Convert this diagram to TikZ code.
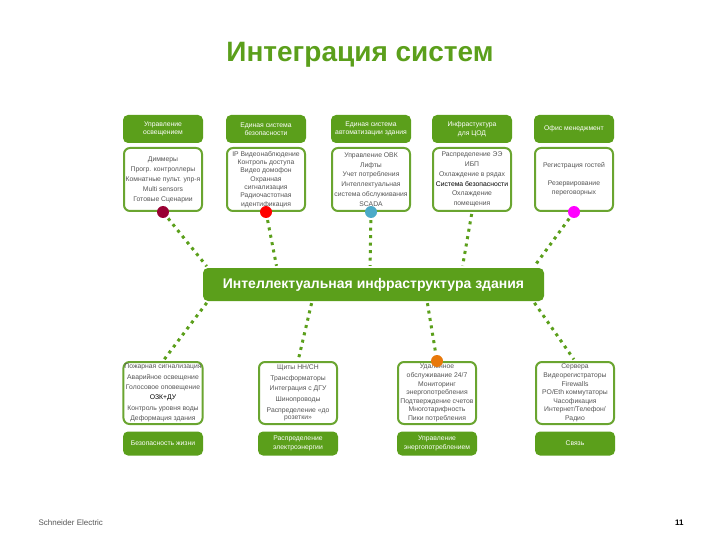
\documentclass[tikz,border=0pt]{standalone}
\usepackage{fontspec}
\setmainfont{Liberation Sans}
\usetikzlibrary{positioning,calc}
\definecolor{leaf}{HTML}{5B9F1B}
\definecolor{leafline}{HTML}{6AA530}
\definecolor{inktext}{HTML}{555555}
\definecolor{dotwine}{HTML}{990033}
\definecolor{dotred}{HTML}{FF0000}
\definecolor{dotsky}{HTML}{4BAAC8}
\definecolor{dotpink}{HTML}{FF00FF}
\definecolor{dotamber}{HTML}{E8780A}

\tikzset{
  head/.style={fill=leaf, rounded corners=5pt, minimum width=80pt, minimum height=28pt,
    text=white, font=\fontsize{6.8}{8.6}\selectfont, align=center, inner sep=1pt},
  info/.style={draw=leafline, line width=2pt, fill=white, rounded corners=6pt,
    minimum width=78pt, minimum height=63pt, text=inktext,
    font=\fontsize{6.8}{10}\selectfont, align=center, inner sep=1pt},
  blob/.style={circle, minimum size=12pt, inner sep=0pt},
  link/.style={leaf, line width=3pt, dash pattern=on 3pt off 4.5pt, shorten <=2pt, shorten >=2pt},
}

\begin{document}
\begin{tikzpicture}[x=1pt,y=-1pt]
  \useasboundingbox (0,0) rectangle (720,540);

  % title
  \node[leaf, font=\fontsize{28}{32}\selectfont\bfseries, anchor=base] (title) at (360,62) {Интеграция систем};

  % upper row
  \node[head] (h1) at (163,129) {Управление\\освещением};
  \node[head] (h2) at (266,129) {Единая система\\безопасности};
  \node[head] (h3) at (371,129) {Единая система\\автоматизации здания};
  \node[head] (h4) at (472,129) {Инфрастуктура\\для ЦОД};
  \node[head] (h5) at (574,129) {Офис менеджмент};

  \node[info] (t1) at (163,179.5) {Диммеры\\Прогр. контроллеры\\Комнатные пульт. упр-я\\Multi sensors\\Готовые Сценарии};
  \node[info, font=\fontsize{6.8}{8.3}\selectfont] (t2) at (266,179.5) {IP Видеонаблюдение\\Контроль доступа\\Видео домофон\\Охранная\\сигнализация\\Радиочастотная\\идентификация};
  \node[info, font=\fontsize{6.8}{9.8}\selectfont] (t3) at (371,179.5) {Управление ОВК\\Лифты\\Учет потребления\\Интеллектуальная\\система обслуживания\\SCADA};
  \node[info, font=\fontsize{6.8}{9.8}\selectfont] (t4) at (472,179.5) {Распределение ЭЭ\\ИБП\\Охлаждение в рядах\\\textcolor{black}{Система безопасности}\\Охлаждение\\помещения};
  \node[info, font=\fontsize{6.8}{9}\selectfont] (t5) at (574,179.5) {Регистрация гостей\\[9pt]Резервирование\\переговорных};

  % central bar
  \node[fill=leaf, rounded corners=5pt, minimum width=341pt, minimum height=33pt, text=white,
    font=\fontsize{14}{16}\selectfont\bfseries] (bar) at (373.5,284.5) {Интеллектуальная инфраструктура здания};

  % lower row
  \node[info, minimum height=62pt, font=\fontsize{6.8}{10.4}\selectfont] (b1) at (163,393) {Пожарная сигнализация\\Аварийное освещение\\Голосовое оповещение\\\textcolor{black}{ОЗК+ДУ}\\Контроль уровня воды\\Деформация здания};
  \node[info, minimum height=62pt, font=\fontsize{6.8}{10.6}\selectfont] (b2) at (298,393) {Щиты НН/СН\\Трансформаторы\\Интеграция с ДГУ\\Шинопроводы\\Распределение «до\\[-3pt]розетки»};
  \node[info, minimum height=62pt, font=\fontsize{6.8}{8.6}\selectfont] (b3) at (437,393) {Удаленное\\обслуживание 24/7\\Мониторинг\\энергопотребления\\Подтверждение счетов\\Многотарифность\\Пики потребления};
  \node[info, minimum height=62pt, font=\fontsize{6.8}{8.6}\selectfont] (b4) at (575,393) {Сервера\\Видеорегистраторы\\Firewalls\\PO/Eth коммутаторы\\Часофикация\\Интернет/Телефон/\\Радио};

  \node[head, minimum height=24pt] (f1) at (163,443.5) {Безопасность жизни};
  \node[head, minimum height=24pt] (f2) at (298,443.5) {Распределение\\электроэнергии};
  \node[head, minimum height=24pt] (f3) at (437,443.5) {Управление\\энергопотреблением};
  \node[head, minimum height=24pt] (f4) at (575,443.5) {Связь};

  % coloured markers
  \node[blob, fill=dotwine] (d1) at (t1.south) {};
  \node[blob, fill=dotred] (d2) at (t2.south) {};
  \node[blob, fill=dotsky] (d3) at (t3.south) {};
  \node[blob, fill=dotpink] (d5) at (t5.south) {};
  \node[blob, fill=dotamber] (d6) at (b3.north) {};

  % attachment points on the bar
  \foreach \k/\f in {1/0.015,2/0.217,3/0.49,4/0.76,5/0.968}
    \coordinate (up\k) at ($(bar.north west)!\f!(bar.north east)$);
  \foreach \k/\f in {1/0.015,2/0.32,3/0.657,4/0.968}
    \coordinate (dn\k) at ($(bar.south west)!\f!(bar.south east)$);

  % dotted links
  \foreach \a/\b in {d1/up1,d2/up2,d3/up3,t4.south/up4,d5/up5}
    \draw[link] (\a) -- (\b);
  \foreach \a/\b in {dn1/b1.north,dn2/b2.north,dn3/d6,dn4/b4.north}
    \draw[link] (\a) -- (\b);

  % footer
  \node[inktext, font=\fontsize{8}{9}\selectfont, anchor=west] (brand) at (35,523) {Schneider Electric};
  \node[font=\fontsize{8}{9}\selectfont\bfseries, anchor=east] (page) at (687,523) {11};
\end{tikzpicture}
\end{document}
